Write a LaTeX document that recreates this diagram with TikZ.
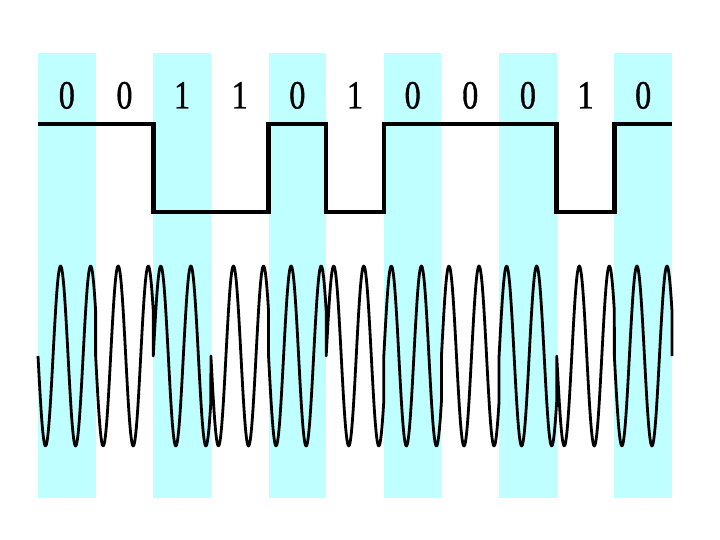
\documentclass[tikz,border=0pt]{standalone}
\usepackage{fontspec}
\setmainfont{Liberation Serif}
\newfontfamily\bitfont[FakeBold=1.2]{Liberation Serif}
\definecolor{stripe}{RGB}{192,255,255}
\begin{document}
\begin{tikzpicture}[x=1pt,y=-1pt,
  bitlabel/.style={font=\bitfont\fontsize{40pt}{40pt}\selectfont, anchor=base, inner sep=0pt, xscale=0.8},
  nrz/.style={line width=4.5pt, line cap=butt, line join=miter},
  wave/.style={line width=2.8pt, line join=round}]
\useasboundingbox (0,0) rectangle (720,540);
\def\W{57.636}
% stripes
\foreach \i in {0,2,4,6,8,10}
  \fill[stripe] ({38+\W*\i},53) rectangle ({38+\W*(\i+1)},498);
% bit labels
\foreach \b [count=\i from 0] in {0,0,1,1,0,1,0,0,0,1,0}
  \node[bitlabel] (b\i) at ({38+\W*(\i+0.5)},108.5) {\b};
% NRZ signal
\draw[nrz] (38,124) -| ({38+\W*2},212) -| ({38+\W*4},124) -| ({38+\W*5},212)
  -| ({38+\W*6},124) -| ({38+\W*9},212) -| ({38+\W*10},124) -- (672,124);
% DPSK waveform
\draw[wave] (38,356) \foreach \s [count=\i from 0] in {-1,-1,1,-1,-1,1,1,1,1,-1,-1} {
    -- plot[domain=0:1, samples=90] ({38+\W*\i+\W*\x}, {356-90*\s*sin(690*\x)})
  } -- (672,356);
\end{tikzpicture}
\end{document}
